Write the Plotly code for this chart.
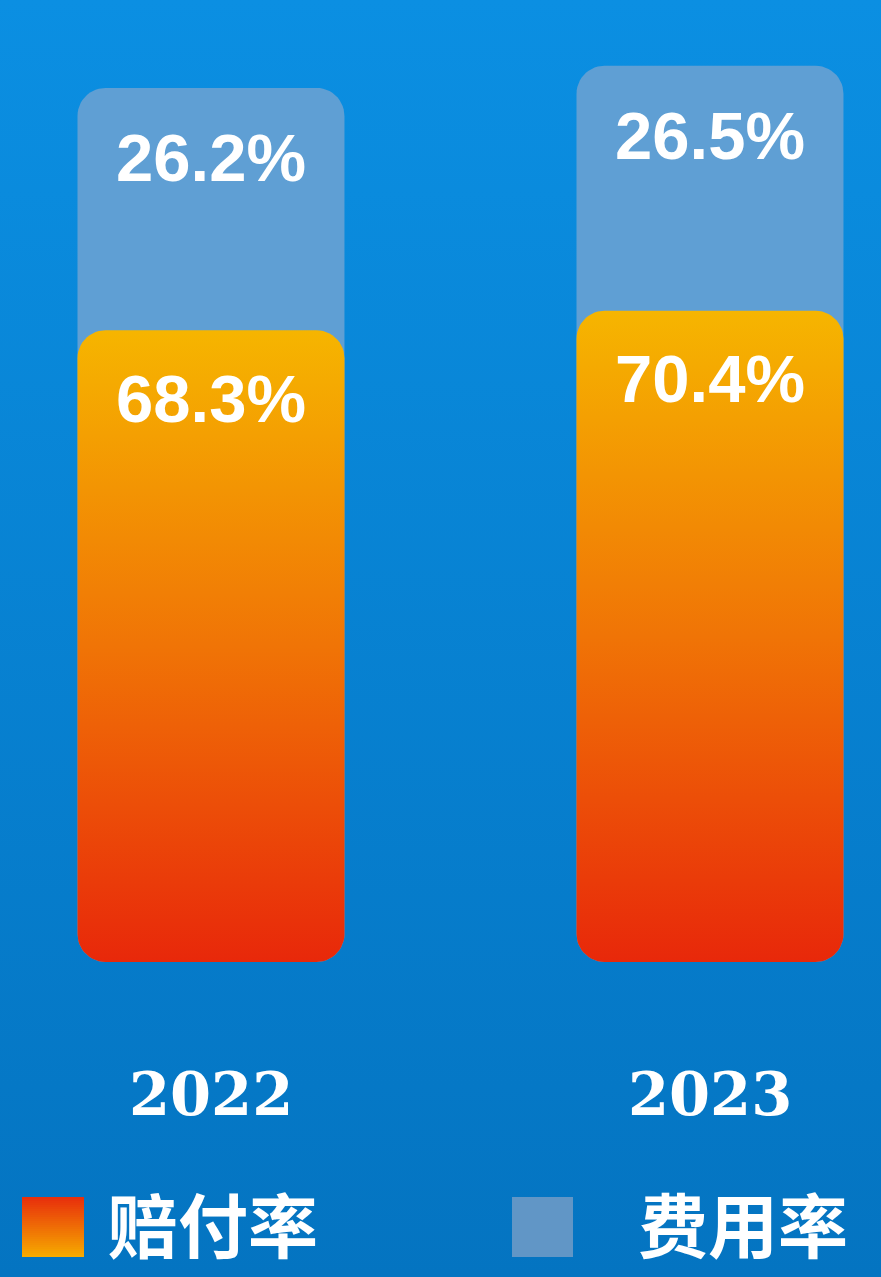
import numpy as np
import plotly.graph_objects as go

# ---------------- data ----------------
years = ["2022", "2023"]
payout_ratio = [68.3, 70.4]    # 赔付率 (%)
expense_ratio = [26.2, 26.5]   # 费用率 (%)
series_names = ["赔付率", "费用率"]

# ---------------- layout constants ----------------
W, H = 881, 1277
X_RANGE = [-0.4228, 1.3427]
PX_PER_UNIT = 9.25
BASE_PX = 962
Y_RANGE = [-(H - BASE_PX) / PX_PER_UNIT, BASE_PX / PX_PER_UNIT]
BAR_W = 0.535
RADIUS_PX = 28
XPU = W / (X_RANGE[1] - X_RANGE[0])

ORANGE_SCALE = [[0, "#e8280a"], [0.5, "#f07406"], [1, "#f6b500"]]
BLUE_BAR = "#5f9fd4"
BG_SCALE = [[0, "#0474c1"], [1, "#0b8fe2"]]


def rounded_rect(xc, y0, y1):
    rx = RADIUS_PX / XPU
    ry = RADIUS_PX / PX_PER_UNIT
    x0, x1 = xc - BAR_W / 2, xc + BAR_W / 2
    t = np.linspace(0, np.pi / 2, 14)
    xs, ys = [], []
    for cx, cy, a0 in [(x1 - rx, y0 + ry, -np.pi / 2), (x1 - rx, y1 - ry, 0.0),
                       (x0 + rx, y1 - ry, np.pi / 2), (x0 + rx, y0 + ry, np.pi)]:
        xs += list(cx + rx * np.cos(a0 + t))
        ys += list(cy + ry * np.sin(a0 + t))
    xs.append(xs[0])
    ys.append(ys[0])
    return xs, ys


fig = go.Figure()

# background gradient
fig.add_trace(go.Scatter(
    x=[X_RANGE[0], X_RANGE[1], X_RANGE[1], X_RANGE[0], X_RANGE[0]],
    y=[Y_RANGE[0], Y_RANGE[0], Y_RANGE[1], Y_RANGE[1], Y_RANGE[0]],
    mode="lines", line=dict(width=0), fill="toself",
    fillgradient=dict(type="vertical", colorscale=BG_SCALE),
    hoverinfo="skip", showlegend=False))

# expense ratio (behind, stacked on top of payout)
for i, (p, e) in enumerate(zip(payout_ratio, expense_ratio)):
    xs, ys = rounded_rect(i, 0, p + e)
    fig.add_trace(go.Scatter(x=xs, y=ys, mode="lines", line=dict(width=0),
                             fill="toself", fillcolor=BLUE_BAR,
                             name=series_names[1], showlegend=False, hoverinfo="skip"))

# payout ratio (front)
for i, p in enumerate(payout_ratio):
    xs, ys = rounded_rect(i, 0, p)
    fig.add_trace(go.Scatter(x=xs, y=ys, mode="lines", line=dict(width=0),
                             fill="toself",
                             fillgradient=dict(type="vertical", colorscale=ORANGE_SCALE),
                             name=series_names[0], showlegend=False, hoverinfo="skip"))

annotations = []
label_font = dict(family="Liberation Sans, Arial, sans-serif", size=67, color="white", weight=700)
for i, (p, e) in enumerate(zip(payout_ratio, expense_ratio)):
    annotations.append(dict(x=i, y=p + e, xref="x", yref="y", text=f"{e}%",
                            showarrow=False, yshift=-70, yanchor="middle",
                            font=label_font))
    annotations.append(dict(x=i, y=p, xref="x", yref="y", text=f"{p}%",
                            showarrow=False, yshift=-68, yanchor="middle",
                            font=label_font))

# year labels
for i, yr in enumerate(years):
    annotations.append(dict(x=i, y=(H - 1094) / H, xref="x", yref="paper", text=yr,
                            showarrow=False, yanchor="middle",
                            font=dict(family="DejaVu Serif, Liberation Serif, serif",
                                      size=59, color="white", weight=700)))

# custom legend
shapes = []


def px_x(v):
    return v / W


def px_y(v):
    return (H - v) / H


# gradient swatch for 赔付率 (red top -> orange bottom)
top_c = np.array([0xe8, 0x30, 0x0c])
bot_c = np.array([0xf7, 0xaa, 0x00])
n = 30
y_top, y_bot = 1197, 1257
for k in range(n):
    f = k / (n - 1)
    c = (top_c * (1 - f) + bot_c * f).astype(int)
    ya = y_top + (y_bot - y_top) * k / n
    yb = y_top + (y_bot - y_top) * (k + 1) / n + 0.5
    shapes.append(dict(type="rect", xref="paper", yref="paper",
                       x0=px_x(22), x1=px_x(84), y0=px_y(min(yb, y_bot)), y1=px_y(ya),
                       line=dict(width=0), fillcolor=f"rgb({c[0]},{c[1]},{c[2]})", layer="above"))
shapes.append(dict(type="rect", xref="paper", yref="paper",
                   x0=px_x(512), x1=px_x(573), y0=px_y(1257), y1=px_y(1197),
                   line=dict(width=0), fillcolor="#6196c6", layer="above"))

legend_font = dict(family="Noto Sans CJK SC, sans-serif", size=70, color="white", weight=700)
annotations.append(dict(x=px_x(106), y=px_y(1222), xref="paper", yref="paper",
                        text=series_names[0], showarrow=False, xanchor="left",
                        yanchor="middle", font=legend_font))
annotations.append(dict(x=px_x(636), y=px_y(1222), xref="paper", yref="paper",
                        text=series_names[1], showarrow=False, xanchor="left",
                        yanchor="middle", font=legend_font))

fig.update_layout(
    width=W, height=H,
    margin=dict(l=0, r=0, t=0, b=0),
    paper_bgcolor="#0680cf", plot_bgcolor="#0680cf",
    xaxis=dict(range=X_RANGE, visible=False, fixedrange=True),
    yaxis=dict(range=Y_RANGE, visible=False, fixedrange=True),
    showlegend=False, hovermode=False,
    annotations=annotations, shapes=shapes,
)

fig.write_html("out.html", config={"displayModeBar": False},
               post_script="document.body.style.margin='0px';document.body.style.overflow='hidden';")
